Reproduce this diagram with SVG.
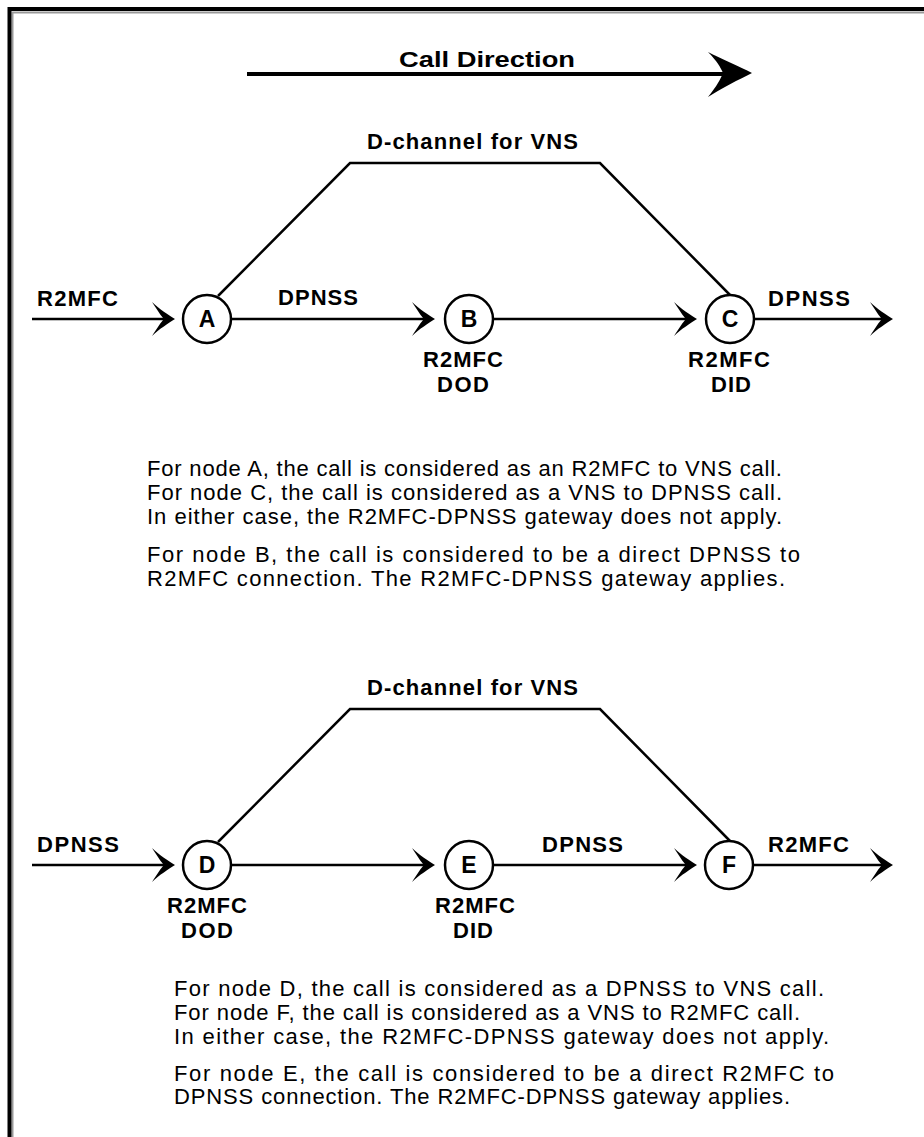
<svg xmlns="http://www.w3.org/2000/svg" width="924" height="1137" viewBox="0 0 924 1137">
<style>
.ln{stroke:#000;stroke-width:2.5;fill:none}
.nd{stroke:#000;stroke-width:2.5;fill:#fff}
.lb{font-family:"Liberation Sans",Arial,sans-serif;font-weight:bold;font-size:22px;fill:#000}
.nl{font-family:"Liberation Sans",Arial,sans-serif;font-weight:bold;font-size:23px;fill:#000;text-anchor:middle}
.tx{font-family:"Liberation Sans",Arial,sans-serif;font-size:22px;fill:#000}
</style>
<defs>
<path id="ah" d="M0,0 C-6,-4 -16,-10 -23,-17 C-17,-8 -14,-3 -11,0 C-14,3 -17,8 -23,17 C-16,10 -6,4 0,0 Z" fill="#000"/>
</defs>
<rect width="924" height="1137" fill="#fff"/>
<path d="M12.5,1150 V12.5 H940" fill="none" stroke="#999" stroke-width="2"/>
<path d="M9.5,1150 V9 H940" fill="none" stroke="#000" stroke-width="4"/>

<g id="call-direction">
<line x1="247" y1="74" x2="728" y2="74" stroke="#000" stroke-width="4"/>
<path d="M752,73 C740,67 720,58 708,52 C717,61 721,68 723,73 C721,78 717,86 708,97 C720,89 740,79 752,73 Z" fill="#000"/>
<text class="lb" x="487" y="67" text-anchor="middle" font-size="25" textLength="176" lengthAdjust="spacingAndGlyphs">Call Direction</text>
</g>

<g id="connectors">
<path class="ln" d="M218,296 L350,163 H600 L731,296"/>
<line class="ln" x1="32" y1="319" x2="165" y2="319"/>
<use href="#ah" x="175" y="319"/>
<line class="ln" x1="231" y1="319" x2="425" y2="319"/>
<use href="#ah" x="435" y="319"/>
<line class="ln" x1="493" y1="319" x2="687" y2="319"/>
<use href="#ah" x="697" y="319"/>
<line class="ln" x1="754" y1="319" x2="883" y2="319"/>
<use href="#ah" x="893" y="319"/>
<path class="ln" d="M218,842 L350,709 H600 L731,842"/>
<line class="ln" x1="32" y1="865" x2="165" y2="865"/>
<use href="#ah" x="175" y="865"/>
<line class="ln" x1="231" y1="865" x2="425" y2="865"/>
<use href="#ah" x="435" y="865"/>
<line class="ln" x1="493" y1="865" x2="687" y2="865"/>
<use href="#ah" x="697" y="865"/>
<line class="ln" x1="753" y1="865" x2="883" y2="865"/>
<use href="#ah" x="893" y="865"/>
</g>

<g id="labels1">
<text class="lb" x="367" y="149" textLength="211" lengthAdjust="spacing">D-channel for VNS</text>
<text class="lb" x="37" y="306" textLength="81" lengthAdjust="spacing">R2MFC</text>
<text class="lb" x="278" y="305" textLength="80" lengthAdjust="spacing">DPNSS</text>
<text class="lb" x="768" y="306" textLength="82" lengthAdjust="spacing">DPNSS</text>
</g>

<g id="node-A"><circle class="nd" cx="207" cy="319" r="24"/><text class="nl" x="207" y="327">A</text></g>
<g id="node-B"><circle class="nd" cx="469" cy="319" r="24"/><text class="nl" x="469" y="327">B</text>
<text class="lb" x="423" y="367" textLength="80" lengthAdjust="spacing">R2MFC</text>
<text class="lb" x="437" y="392" textLength="52" lengthAdjust="spacing">DOD</text></g>
<g id="node-C"><circle class="nd" cx="730" cy="319" r="24"/><text class="nl" x="730" y="327">C</text>
<text class="lb" x="688" y="367" textLength="82" lengthAdjust="spacing">R2MFC</text>
<text class="lb" x="711" y="392" textLength="40" lengthAdjust="spacing">DID</text></g>

<g id="text1">
<text class="tx" x="147" y="476" textLength="635" lengthAdjust="spacing">For node A, the call is considered as an R2MFC to VNS call.</text>
<text class="tx" x="147" y="500" textLength="635" lengthAdjust="spacing">For node C, the call is considered as a VNS to DPNSS call.</text>
<text class="tx" x="147" y="524" textLength="635" lengthAdjust="spacing">In either case, the R2MFC-DPNSS gateway does not apply.</text>
<text class="tx" x="147" y="562" textLength="653" lengthAdjust="spacing">For node B, the call is considered to be a direct DPNSS to</text>
<text class="tx" x="147" y="586" textLength="638" lengthAdjust="spacing">R2MFC connection. The R2MFC-DPNSS gateway applies.</text>
</g>

<g id="labels2">
<text class="lb" x="367" y="695" textLength="211" lengthAdjust="spacing">D-channel for VNS</text>
<text class="lb" x="37" y="852" textLength="82" lengthAdjust="spacing">DPNSS</text>
<text class="lb" x="542" y="852" textLength="81" lengthAdjust="spacing">DPNSS</text>
<text class="lb" x="768" y="852" textLength="81" lengthAdjust="spacing">R2MFC</text>
</g>

<g id="node-D"><circle class="nd" cx="207" cy="865" r="24"/><text class="nl" x="207" y="873">D</text>
<text class="lb" x="167" y="913" textLength="80" lengthAdjust="spacing">R2MFC</text>
<text class="lb" x="181" y="938" textLength="52" lengthAdjust="spacing">DOD</text></g>
<g id="node-E"><circle class="nd" cx="469" cy="865" r="24"/><text class="nl" x="469" y="873">E</text>
<text class="lb" x="435" y="913" textLength="80" lengthAdjust="spacing">R2MFC</text>
<text class="lb" x="453" y="938" textLength="40" lengthAdjust="spacing">DID</text></g>
<g id="node-F"><circle class="nd" cx="729" cy="865" r="24"/><text class="nl" x="729" y="873">F</text></g>

<g id="text2">
<text class="tx" x="174" y="996" textLength="650" lengthAdjust="spacing">For node D, the call is considered as a DPNSS to VNS call.</text>
<text class="tx" x="174" y="1020" textLength="626" lengthAdjust="spacing">For node F, the call is considered as a VNS to R2MFC call.</text>
<text class="tx" x="174" y="1044" textLength="655" lengthAdjust="spacing">In either case, the R2MFC-DPNSS gateway does not apply.</text>
<text class="tx" x="174" y="1081" textLength="660" lengthAdjust="spacing">For node E, the call is considered to be a direct R2MFC to</text>
<text class="tx" x="174" y="1104" textLength="616" lengthAdjust="spacing">DPNSS connection. The R2MFC-DPNSS gateway applies.</text>
</g>
</svg>
